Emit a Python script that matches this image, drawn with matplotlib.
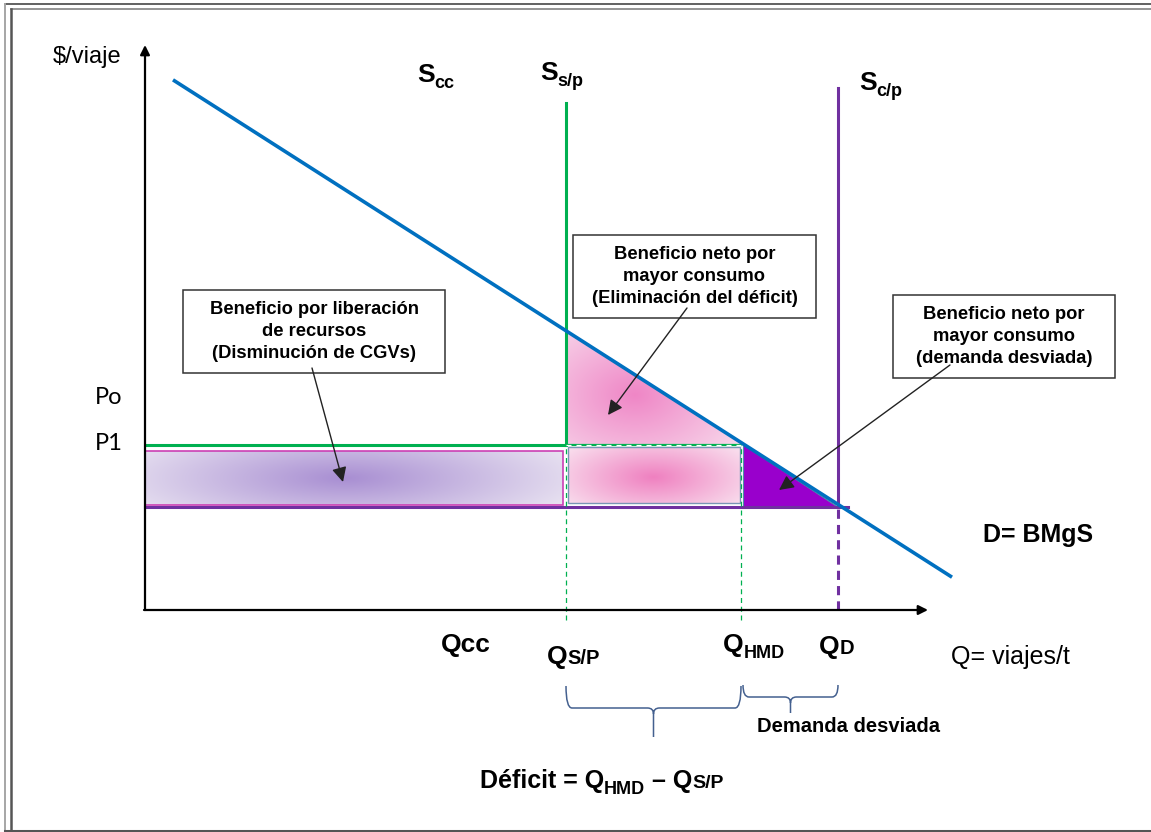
import numpy as np
import matplotlib
matplotlib.use('Agg')
import matplotlib.pyplot as plt
from matplotlib.patches import Rectangle, Polygon, PathPatch
from matplotlib.path import Path
from matplotlib.colors import to_rgb

plt.rcParams['font.family'] = ['Liberation Sans', 'DejaVu Sans']

# quantities (trips) and prices, in chart units (origin at the axes corner)
q_sp = 421       # Q S/P
q_hmd = 596      # Q HMD
q_d = 693        # Q D
p1 = 165         # P1
p_cp = 103       # price with project
s_sp_top = 507
s_cp_top = 522
d_intercept = 548.0
d_slope = 0.6384
d_q = np.array([28, 807])
q_axis_max = 783
p_axis_max = 565

blue = '#0070c0'
green = '#00b050'
purple = '#7030a0'


def demand(q):
    return d_intercept - d_slope * np.asarray(q)


fig = plt.figure(figsize=(11.51, 8.32), dpi=100)

# frame drawn in pixel units
bg = fig.add_axes([0, 0, 1, 1])
bg.set_xlim(0, 1151)
bg.set_ylim(832, 0)
bg.axis('off')
bg.plot([5, 1151], [4, 4], color='#555555', lw=1.3)
bg.plot([11, 1151], [9, 9], color='#8c8c8c', lw=1.3)
bg.plot([5, 5], [4, 832], color='#a6a6a6', lw=1.4)
bg.plot([11, 11], [9, 830], color='#555555', lw=1.8)
bg.plot([5, 1151], [830.5, 830.5], color='#555555', lw=2.2)

ax = fig.add_axes([0, 0, 1, 1], facecolor='none')
xlim = (-145, 1006)
ylim = (-222, 610)
ax.set_xlim(*xlim)
ax.set_ylim(*ylim)
ax.axis('off')


def radial_fill(patch, c_center, c_edge, cx, cy, rx, ry, z):
    ext = patch.get_path().get_extents(patch.get_patch_transform())
    x0, y0, x1, y1 = ext.x0, ext.y0, ext.x1, ext.y1
    xs = np.linspace(x0, x1, 300)
    ys = np.linspace(y0, y1, 150)
    X, Y = np.meshgrid(xs, ys)
    r = np.clip(np.hypot((X - cx) / rx, (Y - cy) / ry), 0, 1)[..., None]
    img = np.array(to_rgb(c_center)) * (1 - r) + np.array(to_rgb(c_edge)) * r
    im = ax.imshow(img, extent=(x0, x1, y0, y1), origin='lower', aspect='auto',
                   zorder=z, interpolation='bilinear')
    im.set_clip_path(patch)


# left rectangle: released resources
rect_l = Rectangle((0, 105), 418, 54, facecolor='none', edgecolor='#cc3fb4', lw=1.2, zorder=3)
ax.add_patch(rect_l)
radial_fill(rect_l, '#a88ed2', '#ece7f3', 200, 132, 260, 60, 2)

# middle rectangle
rect_m = Rectangle((q_sp + 2, 107), q_hmd - q_sp - 3, 56, facecolor='none',
                   edgecolor='#7a95b5', lw=1.0, zorder=3)
ax.add_patch(rect_m)
radial_fill(rect_m, '#ef80c0', '#f9dfee', (q_sp + q_hmd) / 2, 133, 110, 45, 2)

# pink triangle under demand
q_at_p1 = (d_intercept - p1) / d_slope
tri = Polygon([(q_sp, demand(q_sp)), (q_sp, p1), (q_at_p1, p1)], closed=True,
              facecolor='none', edgecolor='#c8c8c8', lw=0.8, zorder=3)
ax.add_patch(tri)
radial_fill(tri, '#ef86c6', '#f8daec', 490, 215, 130, 90, 2)

# purple triangle: diverted demand
tri_p = Polygon([(q_hmd + 2, demand(q_hmd + 2)), (q_hmd + 2, p_cp), (q_d, p_cp)], closed=True,
                facecolor='#9900cc', edgecolor='#4f8fa8', lw=0.8, zorder=3)
ax.add_patch(tri_p)

# supply lines
ax.plot([0, q_sp], [p1, p1], color=green, lw=2.2, zorder=4, solid_capstyle='butt')
ax.plot([q_sp, q_sp], [p1, s_sp_top], color=green, lw=2.2, zorder=4)
ax.plot([q_sp, q_hmd], [p1, p1], color=green, lw=1.6, zorder=4)
ax.plot([q_sp, q_hmd], [p1, p1], color='white', lw=0.9, dashes=(4, 4), zorder=4)
ax.plot([0, q_d + 10], [p_cp, p_cp], color=purple, lw=2.2, zorder=4)
ax.plot([q_d, q_d], [p_cp, s_cp_top], color=purple, lw=2.2, zorder=4)
ax.plot([q_d, q_d], [0, p_cp], color=purple, lw=2.2, dashes=(3, 2), zorder=4)
for q in [q_sp, q_hmd]:
    ax.plot([q, q], [-10, p1], color=green, lw=0.9, dashes=(4, 3), zorder=4)

# demand
ax.plot(d_q, demand(d_q), color=blue, lw=2.6, zorder=5, solid_capstyle='butt')

# axes with arrow heads
ax.annotate('', xy=(0, p_axis_max), xytext=(0, 0),
            arrowprops=dict(arrowstyle='-|>', color='black', lw=1.6, mutation_scale=14, shrinkA=0, shrinkB=0), zorder=6)
ax.annotate('', xy=(q_axis_max, 0), xytext=(-1, 0),
            arrowprops=dict(arrowstyle='-|>', color='black', lw=1.6, mutation_scale=14, shrinkA=0, shrinkB=0), zorder=6)


# curly braces
def brace(xl, xr, y_top, y_mid, y_tip, r=6):
    xm = (xl + xr) / 2
    verts = [(xl, y_top), (xl, y_mid), (xl + r, y_mid),
             (xm - r, y_mid),
             (xm, y_mid), (xm, y_mid - r),
             (xm, y_tip),
             (xm, y_mid - r), (xm, y_mid), (xm + r, y_mid),
             (xr - r, y_mid),
             (xr, y_mid), (xr, y_top)]
    codes = [Path.MOVETO, Path.CURVE3, Path.CURVE3,
             Path.LINETO,
             Path.CURVE3, Path.CURVE3,
             Path.LINETO,
             Path.MOVETO, Path.CURVE3, Path.CURVE3,
             Path.LINETO,
             Path.CURVE3, Path.CURVE3]
    ax.add_patch(PathPatch(Path(verts, codes), facecolor='none', edgecolor='#44608f', lw=1.1))


brace(q_sp, q_hmd, -76, -98, -127)
brace(q_hmd + 2, q_d, -75, -87, -103)

# annotation boxes
boxes = [
    ((38, 237), 262, 83, 'Beneficio por liberación\nde recursos\n(Disminución de CGVs)'),
    ((428, 292), 243, 83, 'Beneficio neto por\nmayor consumo\n(Eliminación del déficit)'),
    ((748, 232), 222, 83, 'Beneficio neto por\nmayor consumo\n(demanda desviada)'),
]
for (bx, by), bw, bh, txt in boxes:
    ax.add_patch(Rectangle((bx, by), bw, bh, facecolor='white', edgecolor='#333333', lw=1.1, zorder=7))
    ax.text(bx + bw / 2, by + bh / 2, txt, ha='center', va='center', fontsize=13.2,
            fontweight='bold', linespacing=1.36, zorder=8)

arrows = [((167, 242), (198, 128)), ((542, 302), (463, 195)), ((805, 245), (634, 120))]
for start, end in arrows:
    ax.annotate('', xy=end, xytext=start,
                arrowprops=dict(arrowstyle='-|>', color='#222222', lw=1.0, mutation_scale=22,
                                shrinkA=0, shrinkB=0), zorder=9)

renderer = fig.canvas.get_renderer()


def rich(x, y, parts, ha='left'):
    # parts: (string, size, dy in points, weight)
    items = []
    for s, size, dy, w in parts:
        t = ax.annotate(s, xy=(x, y), xytext=(0, dy), textcoords='offset points',
                        fontsize=size, fontweight=w, ha='left', va='baseline', zorder=10)
        width = t.get_window_extent(renderer).width * 72 / fig.dpi
        items.append((t, width, dy))
    total = sum(w for _, w, _ in items)
    off = -total / 2 if ha == 'center' else 0
    for t, width, dy in items:
        t.xyann = (off, dy)
        off += width


rich(272, 528, [('S', 19, 0, 'bold'), ('cc', 13, -4, 'bold')])
rich(395, 530, [('S', 19, 0, 'bold'), ('s/p', 13, -4, 'bold')])
rich(714, 520, [('S', 19, 0, 'bold'), ('c/p', 13, -4, 'bold')])

rich(296, -42, [('Qcc', 19, 0, 'bold')])
rich(402, -54, [('Q', 19, 0, 'bold'), ('S/P', 14.5, 0, 'bold')])
rich(578, -42, [('Q', 19, 0, 'bold'), ('HMD', 13, -4, 'bold')])
rich(674, -44, [('Q', 19, 0, 'bold'), ('D', 14.5, 0, 'bold')])
rich(335, -178, [('Déficit = Q', 18, 0, 'bold'), ('HMD', 13, -4, 'bold'),
                 (' – Q', 18, 0, 'bold'), ('S/P', 14, 0, 'bold')])

ax.text(806, -54, 'Q= viajes/t', fontsize=18, va='baseline', ha='left')
ax.text(-58, 547, '$/viaje', fontsize=17, va='baseline', ha='center')
ax.text(838, 75, 'D= BMgS', fontsize=18, fontweight='bold', va='center', ha='left')
ax.text(704, -116, 'Demanda desviada', fontsize=14.5, fontweight='bold', va='center', ha='center')
ax.text(-36, 212, 'Po', fontsize=17, va='center', ha='center', family=['Lato', 'DejaVu Sans'])
ax.text(-36, 167, 'P1', fontsize=17, va='center', ha='center', family=['Lato', 'DejaVu Sans'])

ax.set_xlim(*xlim)
ax.set_ylim(*ylim)
fig.savefig('out.png', dpi=100)
